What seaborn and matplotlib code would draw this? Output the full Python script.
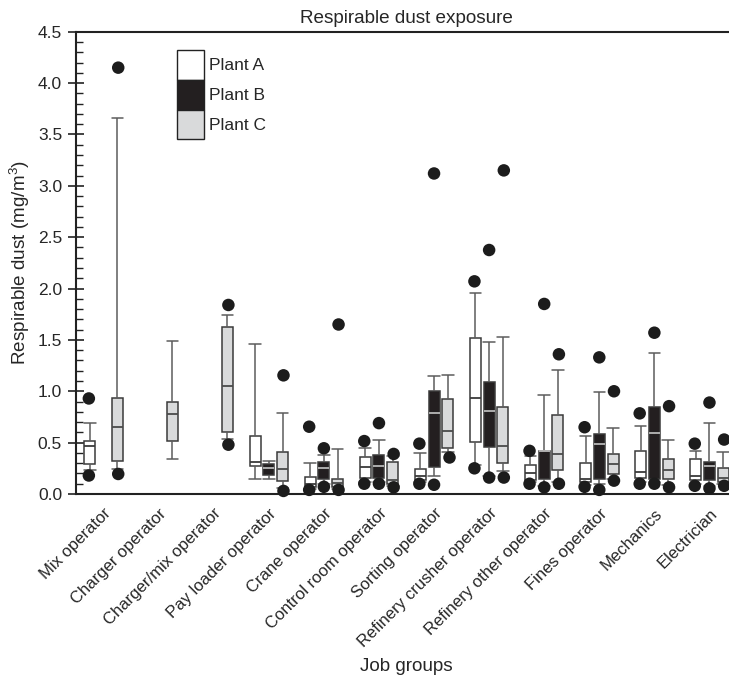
import numpy as np
import pandas as pd
import matplotlib
matplotlib.use("Agg")
import matplotlib.pyplot as plt
import seaborn as sns
from matplotlib.patches import Patch
from matplotlib.ticker import MultipleLocator, FormatStrFormatter

# ---------------- data ----------------
JOBS = ["Mix operator", "Charger operator", "Charger/mix operator",
        "Pay loader operator", "Crane operator", "Control room operator",
        "Sorting operator", "Refinery crusher operator",
        "Refinery other operator", "Fines operator", "Mechanics", "Electrician"]
PLANTS = ["Plant A", "Plant B", "Plant C"]

# five-number summaries: (whisker low, Q1, median, Q3, whisker high); None = no data
plant_a_box = [
    (0.23, 0.29, 0.47, 0.52, 0.69),
    None,
    None,
    (0.15, 0.27, 0.315, 0.565, 1.46),
    (0.05, 0.07, 0.10, 0.17, 0.305),
    (0.12, 0.16, 0.26, 0.365, 0.445),
    (0.12, 0.14, 0.175, 0.24, 0.40),
    (0.28, 0.51, 0.93, 1.52, 1.96),
    (0.12, 0.14, 0.20, 0.28, 0.37),
    (0.09, 0.12, 0.15, 0.30, 0.565),
    (0.12, 0.16, 0.21, 0.42, 0.665),
    (0.10, 0.14, 0.18, 0.34, 0.42),
]
plant_b_box = [
    None,
    None,
    None,
    (0.15, 0.185, 0.25, 0.29, 0.32),
    (0.10, 0.15, 0.25, 0.315, 0.38),
    (0.12, 0.16, 0.27, 0.38, 0.525),
    (0.18, 0.265, 0.785, 1.005, 1.15),
    (0.18, 0.455, 0.81, 1.095, 1.48),
    (0.08, 0.15, 0.415, 0.42, 0.96),
    (0.10, 0.15, 0.485, 0.585, 0.99),
    (0.12, 0.15, 0.59, 0.845, 1.37),
    (0.08, 0.135, 0.27, 0.31, 0.69),
]
plant_c_box = [
    (0.24, 0.32, 0.65, 0.93, 3.66),
    (0.34, 0.52, 0.78, 0.90, 1.49),
    (0.54, 0.60, 1.055, 1.63, 1.74),
    (0.06, 0.127, 0.245, 0.41, 0.79),
    (0.05, 0.065, 0.105, 0.15, 0.435),
    (0.08, 0.10, 0.135, 0.315, 0.37),
    (0.41, 0.45, 0.61, 0.92, 1.16),
    (0.22, 0.305, 0.47, 0.845, 1.53),
    (0.12, 0.23, 0.385, 0.765, 1.21),
    (0.15, 0.19, 0.29, 0.39, 0.645),
    (0.09, 0.15, 0.235, 0.34, 0.53),
    (0.10, 0.12, 0.16, 0.255, 0.41),
]

# extreme values shown as dots
plant_a_dots = [[0.93, 0.18], [], [], [], [0.655, 0.04], [0.515, 0.10],
                [0.49, 0.10], [2.07, 0.25], [0.42, 0.10], [0.65, 0.07],
                [0.785, 0.10], [0.49, 0.08]]
plant_b_dots = [[], [], [], [], [0.445, 0.07], [0.69, 0.10],
                [3.12, 0.09], [2.375, 0.16], [1.85, 0.065], [1.33, 0.04],
                [1.57, 0.10], [0.89, 0.055]]
plant_c_dots = [[4.15, 0.195], [], [1.84, 0.48], [1.155, 0.03], [1.65, 0.04],
                [0.39, 0.065], [0.365], [3.15, 0.16], [1.36, 0.10],
                [1.00, 0.13], [0.855, 0.065], [0.53, 0.08]]

FILL = {"Plant A": "#ffffff", "Plant B": "#231f20", "Plant C": "#d9dadb"}
MEDIAN_COLORS = ["#3a3a3a", "#b8b8b8", "#4a4a4a"]

# ---------------- tables ----------------
box_rows, dot_rows = [], []
for plant, stats, dots in zip(PLANTS, [plant_a_box, plant_b_box, plant_c_box],
                              [plant_a_dots, plant_b_dots, plant_c_dots]):
    for job, s, d in zip(JOBS, stats, dots):
        if s is not None:
            for v in s:
                box_rows.append((job, plant, v))
        for v in d:
            dot_rows.append((job, plant, v))
box_df = pd.DataFrame(box_rows, columns=["job", "plant", "value"])
dot_df = pd.DataFrame(dot_rows, columns=["job", "plant", "value"])

# ---------------- style ----------------
sns.set_theme(style="ticks")
plt.rcParams["font.family"] = ["Liberation Sans", "DejaVu Sans"]
plt.rcParams["axes.edgecolor"] = "#222222"
plt.rcParams["mathtext.fontset"] = "custom"
plt.rcParams["mathtext.rm"] = "Liberation Sans"

W, H = 729, 678
fig = plt.figure(figsize=(W / 100, H / 100), dpi=100)
ax_left, ax_right, ax_top, ax_bottom = 76, 737, 31.7, 494
ax = fig.add_axes([ax_left / W, 1 - ax_bottom / H,
                   (ax_right - ax_left) / W, (ax_bottom - ax_top) / H])

sns.boxplot(data=box_df, x="job", y="value", hue="plant", order=JOBS,
            hue_order=PLANTS, palette=FILL, saturation=1, width=0.75, gap=0.2,
            whis=(0, 100), linecolor="#3a3a3a", linewidth=1.1, fliersize=0,
            whiskerprops=dict(color="#5c5c5c"), capprops=dict(color="#5c5c5c"),
            legend=False, ax=ax)

for cont, mc in zip(ax.containers, MEDIAN_COLORS):
    for med in cont.medians:
        med.set_color(mc)
        med.set_linewidth(1.3)
    for cap in cont.caps:
        xd = np.asarray(cap.get_xdata(), dtype=float)
        c = xd.mean()
        cap.set_xdata([c - 0.105, c + 0.105])

sns.stripplot(data=dot_df, x="job", y="value", hue="plant", order=JOBS,
              hue_order=PLANTS, palette={p: "#1c1c1c" for p in PLANTS},
              dodge=True, jitter=False, size=9, linewidth=0, legend=False,
              ax=ax, zorder=5, clip_on=False)

ax.set_xlim(-0.5, 11.5)
ax.set_ylim(0, 4.5)
ax.yaxis.set_major_locator(MultipleLocator(0.5))
ax.yaxis.set_minor_locator(MultipleLocator(0.1))
ax.yaxis.set_major_formatter(FormatStrFormatter("%.1f"))
ax.tick_params(axis="y", which="major", direction="inout", length=12,
               width=1.2, labelsize=12.5, pad=4, color="#222222")
ax.tick_params(axis="y", which="minor", direction="in", length=5, width=1.0,
               color="#222222")
ax.tick_params(axis="x", length=0, pad=8.5, labelsize=12)
plt.setp(ax.get_xticklabels(), rotation=45, ha="right", va="top",
         rotation_mode="anchor")
for sp in ax.spines.values():
    sp.set_linewidth(1.5)
    sp.set_color("#222222")

ax.set_title("Respirable dust exposure", fontsize=13.6, pad=6)
ax.set_xlabel("Job groups", fontsize=13.6)
ax.set_ylabel("Respirable dust (mg/m$^3$)", fontsize=13.6)
ax.yaxis.set_label_coords(-0.066, 0.5)
ax.xaxis.set_label_coords(0.5, -0.354)

handles = [Patch(facecolor=FILL[p], edgecolor="#222222", linewidth=1.0)
           for p in PLANTS]
fig.legend(handles, PLANTS, loc="upper left",
           bbox_to_anchor=(177 / W, 1 - 50 / H), frameon=False, fontsize=12.5,
           handlelength=1.55, handleheight=2.26, labelspacing=0,
           handletextpad=0.3, borderpad=0, borderaxespad=0)

fig.savefig("out.png", dpi=100)
